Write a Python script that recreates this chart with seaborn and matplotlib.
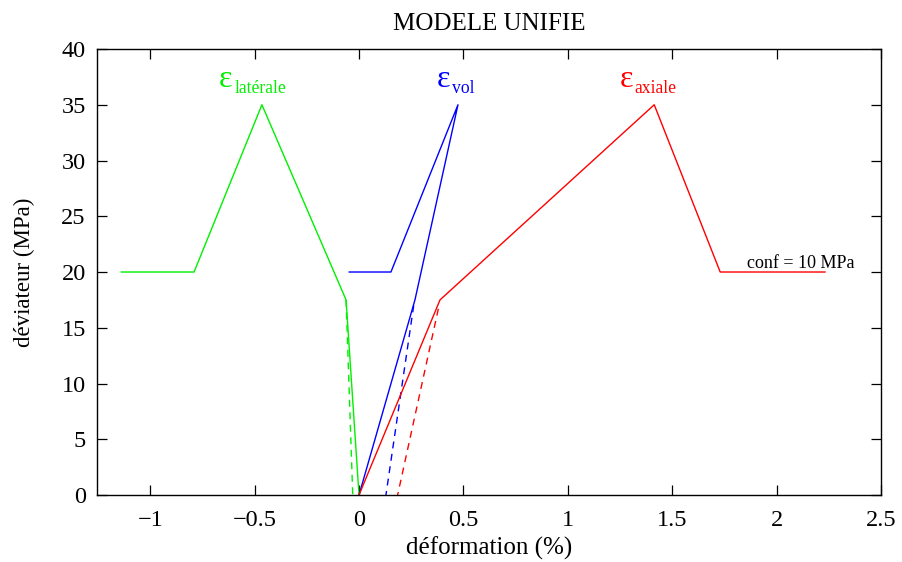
import matplotlib
matplotlib.use("Agg")
import matplotlib.pyplot as plt
import seaborn as sns
import pandas as pd

# ---- data ----
lat_x = [-1.14, -0.79, -0.465, -0.062, 0.0]
lat_y = [20, 20, 35, 17.5, 0]
lat_dash_x = [-0.062, -0.03]
lat_dash_y = [17.5, 0]

vol_x = [-0.048, 0.153, 0.474, 0.268, 0.0]
vol_y = [20, 20, 35, 17.5, 0]
vol_dash_x = [0.262, 0.129]
vol_dash_y = [17.0, 0]

ax_x = [0.0, 0.388, 1.414, 1.73, 2.233]
ax_y = [0, 17.5, 35, 20, 20]
ax_dash_x = [0.38, 0.185]
ax_dash_y = [16.7, 0]

xticks = [-1, -0.5, 0, 0.5, 1, 1.5, 2, 2.5]
yticks = [0, 5, 10, 15, 20, 25, 30, 35, 40]

sns.set_theme(style="ticks")
plt.rcParams['font.family'] = ['Liberation Serif', 'DejaVu Serif']
plt.rcParams['axes.unicode_minus'] = True
plt.rcParams['text.color'] = 'black'
plt.rcParams['axes.labelcolor'] = 'black'
plt.rcParams['xtick.color'] = 'black'
plt.rcParams['ytick.color'] = 'black'

fig = plt.figure(figsize=(9.03, 5.62), dpi=100)
ax = fig.add_axes([0.1074, 0.1192, 0.9756 - 0.1074, 0.9128 - 0.1192])

def draw(x, y, color, ls):
    df = pd.DataFrame({"x": x, "y": y})
    sns.lineplot(data=df, x="x", y="y", sort=False, estimator=None,
                 color=color, linestyle=ls, linewidth=1.0, ax=ax)

GREEN, BLUE, RED = "#00f000", "#0000ff", "#ff0000"
draw(lat_x, lat_y, GREEN, "-")
draw(lat_dash_x, lat_dash_y, GREEN, (0, (5, 4)))
draw(vol_x, vol_y, BLUE, "-")
draw(vol_dash_x, vol_dash_y, BLUE, (0, (5, 4)))
draw(ax_x, ax_y, RED, "-")
draw(ax_dash_x, ax_dash_y, RED, (0, (5, 4)))

ax.set_xlim(-1.255, 2.5)
ax.set_ylim(0, 40)
ax.set_xticks(xticks)
ax.set_yticks(yticks)
ax.set_xticklabels([("\u2212" + f"{abs(t):g}") if t < 0 else f"{t:g}" for t in xticks])
ax.set_yticklabels([f"{t:g}" for t in yticks])
ax.tick_params(direction="in", length=7, width=0.9, top=True, right=True,
               labelsize=17.5, colors="black")
ax.tick_params(axis="x", pad=11)
ax.tick_params(axis="y", pad=8)
for s in ax.spines.values():
    s.set_linewidth(1.0)
    s.set_color("black")

ax.set_xlabel("déformation (%)", fontsize=18, labelpad=4, color="black")
ax.set_ylabel("déviateur (MPa)", fontsize=16.5, labelpad=19, color="black")
ax.set_title("MODELE UNIFIE", fontsize=18, pad=14, color="black")

# epsilon labels
for (xe, xs, sub, col) in [(-0.67, -0.598, "latérale", GREEN),
                           (0.373, 0.445, "vol", BLUE),
                           (1.249, 1.32, "axiale", RED)]:
    ax.text(xe, 36.6, "\u03b5", color=col, fontsize=23, ha="left", va="baseline")
    ax.text(xs, 36.05, sub, color=col, fontsize=12.7, ha="left", va="baseline")

ax.text(1.856, 20.36, "conf = 10 MPa", color="black", fontsize=13, ha="left", va="baseline")

fig.savefig("out.png", dpi=100)
